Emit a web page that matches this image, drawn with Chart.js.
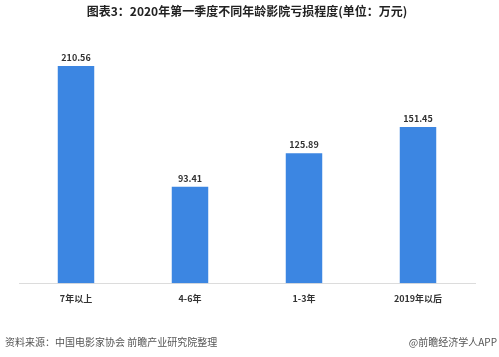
<!DOCTYPE html>
<html><head><meta charset="utf-8">
<script src="https://cdn.jsdelivr.net/npm/chart.js@4"></script>
<style>
html,body{margin:0;padding:0;background:#fff;}
#wrap{position:relative;width:499px;height:357px;}
canvas{position:absolute;left:0;top:0;}
.foot{position:absolute;top:335px;font-family:"Noto Sans CJK SC","Noto Sans",sans-serif;font-size:10px;color:#555;line-height:14px;white-space:nowrap;}
</style></head>
<body>
<div id="wrap">
<canvas id="c" width="499" height="357"></canvas>
<div class="foot" style="left:5px;">资料来源：中国电影家协会 前瞻产业研究院整理</div>
<div class="foot" style="right:2px;">@前瞻经济学人APP</div>
</div>
<script>
const categories = ["7年以上", "4-6年", "1-3年", "2019年以后"];
const values = [210.56, 93.41, 125.89, 151.45];
const titleText = "图表3：2020年第一季度不同年龄影院亏损程度(单位：万元)";

const labelPlugin = {
  id: 'valueLabels',
  afterDatasetsDraw(chart) {
    const ctx = chart.ctx;
    const meta = chart.getDatasetMeta(0);
    ctx.save();
    ctx.font = 'bold 9px "Noto Sans CJK SC", "Noto Sans", sans-serif';
    ctx.fillStyle = '#333';
    ctx.textAlign = 'center';
    ctx.textBaseline = 'bottom';
    meta.data.forEach((bar, i) => {
      ctx.fillText(values[i].toFixed(2), bar.x, bar.y - 4);
    });
    ctx.restore();
  }
};

new Chart(document.getElementById('c'), {
  type: 'bar',
  data: {
    labels: categories,
    datasets: [{
      data: values,
      backgroundColor: '#3c86e2',
      barPercentage: 0.32,
      categoryPercentage: 1.0
    }]
  },
  options: {
    responsive: false,
    animation: false,
    devicePixelRatio: 1,
    layout: { padding: { left: 19, right: 24, top: 0, bottom: 51 } },
    plugins: {
      legend: { display: false },
      tooltip: { enabled: false },
      title: {
        display: true,
        text: titleText,
        color: '#222',
        font: { size: 12, weight: 'bold', family: '"Noto Sans CJK SC", "Noto Sans", sans-serif' },
        padding: { top: 4, bottom: 8 }
      }
    },
    scales: {
      x: {
        grid: { display: false },
        border: { display: true, color: '#dcdcdc', width: 1 },
        ticks: {
          color: '#333',
          padding: 2,
          font: { size: 9, weight: 'bold', family: '"Noto Sans CJK SC", "Noto Sans", sans-serif' }
        }
      },
      y: {
        display: false,
        min: 0,
        max: 249
      }
    }
  },
  plugins: [labelPlugin]
});
</script>
</body></html>
